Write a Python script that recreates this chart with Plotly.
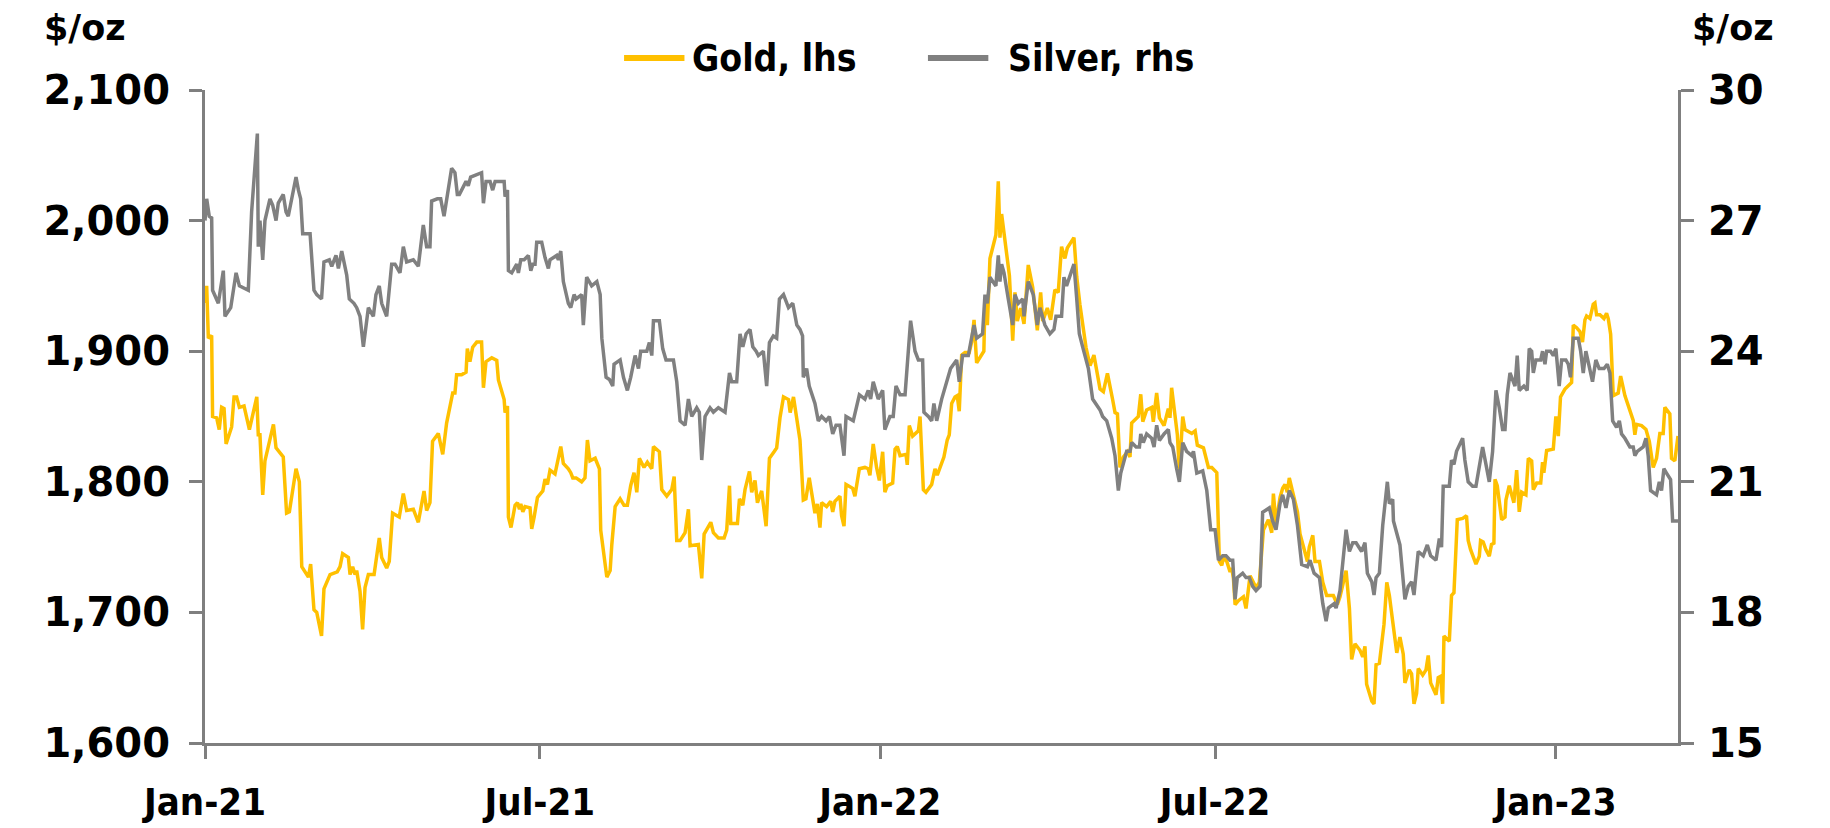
import pandas as pd
import plotly.graph_objects as go

# ---- data (x = days after 1 Jan 2021) ----
gold_day = [0, 0.9, 1.8, 3.6, 4.1, 6.3, 7.7, 9, 10.3, 11.4, 14.4, 15.7, 17.1, 18.6, 21.1, 24, 28, 28.8, 29.7, 31.2, 32.4, 37, 38.4, 42.3, 44.1, 45.6, 49.2, 51, 52.3, 55.9, 57.1, 58.9, 60.4, 63, 64.3, 67.6, 71.5, 73, 74.4, 77.5, 78.4, 79.8, 81.1, 82, 83.8, 85.2, 86.5, 88.3, 91.4, 92.8, 94.2, 95.5, 98.2, 99.6, 101.4, 105, 107.2, 109, 112.6, 115.3, 118.4, 119.8, 121.6, 123, 126.1, 128.5, 130.6, 133.9, 135.1, 136, 138.7, 141.1, 141.8, 143.2, 144.7, 146.9, 149.5, 150.5, 151.9, 155, 157.7, 158.6,
            159.5, 161.7, 162.2, 163.5, 164, 165.4, 167.6, 168.9, 170, 170.7, 171.8, 173, 175.7, 176.6, 177.9, 179.7, 182.6, 183.8, 185.1, 186.5, 189.2, 191, 192.3, 193.7, 196.4, 197.7, 198.8, 200.6, 203.6, 205.4, 206.7, 208.1, 210.9, 213.2, 213.9, 217.2, 219, 219.9, 221.7, 224.4, 226.5, 228.3, 230.1, 231.9, 233.4, 234.8, 237.3, 239.1, 241.5, 242.4, 245.6, 246.9, 249.6, 252.3, 253.6, 255, 256.8, 259.5, 261.3, 262.2, 266.7, 268.5, 269.8, 273.4, 274.8, 277.5, 280.6, 282, 283.5, 284.2, 287.8, 288.9, 290.7, 291.9, 294.3, 295.5, 297.3, 298.6, 300.9, 303.3, 305.1, 307.6, 309, 310.8, 312.7, 315.4, 316.3, 318.1, 319.5,
            321.6, 323.4, 324.8, 326.6, 329.7, 331, 332.4, 333.3, 336, 338.2, 339.3, 340.5, 343.2, 344.1, 345.4, 346.5, 350.1, 351.3, 353.7, 356.7, 358.5, 359.4, 361.2, 363, 364.5, 366.3, 367.5, 368.8, 371.7, 373, 374.2, 375.7, 378.9, 379.6, 380.7, 382.5, 385.6, 386.5, 388.3, 389.7, 392.8, 394.6, 395.8, 399.4, 401.2, 402.3, 403.6, 405.4, 406.6, 407.7, 409, 410.8, 413.1, 414.4, 415.7, 417.1, 418.5, 421, 421.6, 422.9, 424.3, 426.5, 427.5, 428.8, 429.7, 430.6, 431.9, 434.8, 436.6, 437.8, 439.1, 440.9, 442.7, 445, 447.4, 449.9, 451.7, 452.8, 455.3, 457.1, 459.4, 461.2, 463, 464.8, 466.1, 469.7, 471.2, 472.9, 476.2, 478.4, 480.5,
            483.8, 485.6, 487.8, 490.6, 491.9, 493.2, 494.6, 496.4, 498.6, 500, 500.9, 504.5, 505.8, 506.9, 509, 511.7, 512.6, 514.4, 515.9, 518.4, 520.7, 521.6, 522.5, 525.6, 526.7, 528.5, 529.7, 533.4, 535.2, 536.4, 539.7, 542.4, 544.2, 546.9, 548.3, 549.6, 550.5, 552.3, 554.1, 555, 555.9, 556.8, 558.6, 561.3, 562.7, 564.9, 566.7, 568.1, 569.9, 572.1, 574.8, 576.6, 577.5, 578.9, 581.1, 582.5, 583.8, 585, 586.1, 588.3, 590.5, 591.9, 594.1, 595.9, 596.9, 598.8, 600, 602.4, 604.2, 606.3, 609.9, 612.1, 613.5, 615, 616.8, 618.6, 619.8, 621.6, 624.3, 625.8, 627, 627.9, 630.7, 631.9, 633, 634.8, 637.3, 638.8, 640.2, 642, 644.2,
            645.9, 647.7, 648.6, 650.9, 652.2, 653.5, 654.9, 655.8, 658.2, 660, 661.2, 662.5, 665.4, 666.6, 667.9, 669, 669.7, 672.6, 673.8, 675.1, 676.9, 679.8, 681.9, 682.8, 684.1, 687, 688.8, 689.5, 690.9, 692.4, 694.2, 695.4, 696.7, 697.3, 698.5, 700.9, 702.7, 703.2, 705, 706.3, 707.5, 709, 710.4, 711.7, 714, 715.3, 717.1, 718, 719.8, 722, 723, 723.7, 725.2, 728.8, 730.2, 731.5, 732.7, 735.1, 736.9, 738.7, 739.6, 741.4, 743.2, 744.6, 745.9, 746.8, 748.6, 750.4, 751.3, 752.2, 754, 756.2, 757.6, 758.5, 759.8, 761.2, 763.9, 765.2, 767.5, 769.3, 770.6, 772, 772.9, 773.8, 776.5, 778.9, 780.7, 782.8, 784.6, 786.4, 788.2, 789.1, 791.8, 792.7, 794.5, 796.2]
gold_usd = [1937, 1950, 1910, 1912, 1850, 1849, 1840, 1857, 1856, 1829, 1842, 1865, 1865, 1857, 1858, 1840, 1865, 1836, 1836, 1790, 1816, 1844, 1826, 1819, 1776, 1777, 1810, 1800, 1735, 1727, 1737, 1702, 1700, 1682, 1718, 1729, 1731, 1735, 1745, 1742, 1729, 1735, 1729, 1732, 1716, 1687, 1719, 1729, 1729, 1744, 1757, 1742, 1734, 1739, 1776, 1773, 1791, 1778, 1779, 1769, 1793, 1778, 1784, 1831, 1837, 1821, 1845, 1868, 1868, 1882, 1882, 1884, 1902, 1892, 1903, 1907, 1907, 1872, 1892, 1895, 1893, 1878,
            1874, 1863, 1853, 1858, 1773, 1765, 1782, 1784, 1779, 1783, 1777, 1781, 1780, 1764, 1773, 1788, 1793, 1802, 1798, 1809, 1806, 1820, 1827, 1814, 1810, 1807, 1803, 1803, 1800, 1803, 1832, 1816, 1818, 1810, 1763, 1727, 1732, 1752, 1781, 1787, 1782, 1782, 1797, 1807, 1792, 1818, 1811, 1815, 1810, 1827, 1823, 1794, 1789, 1794, 1804, 1755, 1755, 1761, 1779, 1751, 1752, 1726, 1760, 1769, 1761, 1757, 1757, 1763, 1797, 1768, 1768, 1787, 1782, 1794, 1808, 1792, 1801, 1784, 1793, 1766, 1818, 1823, 1826, 1849, 1865, 1863, 1853, 1865, 1852,
            1832, 1786, 1787, 1803, 1776, 1783, 1765, 1784, 1781, 1785, 1777, 1785, 1789, 1774, 1766, 1798, 1795, 1789, 1810, 1811, 1810, 1805, 1829, 1811, 1801, 1823, 1792, 1797, 1799, 1825, 1827, 1820, 1821, 1813, 1843, 1835, 1839, 1850, 1794, 1792, 1798, 1810, 1805, 1819, 1832, 1836, 1860, 1865, 1866, 1854, 1897, 1899, 1899, 1907, 1924, 1891, 1894, 1900, 1939, 1920, 1971, 1983, 1989, 2030, 1987, 2005, 1989, 1958, 1908, 1945, 1923, 1933, 1921, 1966, 1949, 1916, 1945, 1923, 1933, 1924, 1947, 1945, 1980, 1971, 1979, 1987, 1957, 1936, 1903, 1889, 1897,
            1871, 1869, 1883, 1863, 1853, 1852, 1811, 1819, 1823, 1819, 1845, 1850, 1867, 1846, 1855, 1857, 1846, 1868, 1849, 1843, 1856, 1849, 1872, 1836, 1808, 1850, 1840, 1837, 1839, 1828, 1826, 1811, 1811, 1807, 1739, 1736, 1742, 1739, 1731, 1734, 1726, 1706, 1709, 1712, 1703, 1728, 1723, 1719, 1723, 1763, 1771, 1761, 1791, 1768, 1788, 1795, 1798, 1792, 1803, 1791, 1777, 1760, 1747, 1739, 1750, 1759, 1739, 1739, 1723, 1713, 1713, 1706, 1712, 1721, 1732, 1703, 1664, 1676, 1671, 1666, 1674, 1645, 1632, 1630, 1660, 1661, 1691, 1723, 1713, 1693, 1669,
            1681, 1668, 1646, 1656, 1653, 1630, 1638, 1657, 1652, 1656, 1667, 1646, 1637, 1650, 1651, 1630, 1682, 1678, 1713, 1715, 1771, 1772, 1774, 1755, 1748, 1737, 1743, 1755, 1754, 1748, 1743, 1752, 1753, 1802, 1797, 1771, 1773, 1786, 1797, 1791, 1784, 1809, 1777, 1792, 1790, 1818, 1816, 1794, 1799, 1799, 1815, 1807, 1824, 1825, 1850, 1835, 1865, 1871, 1874, 1876, 1920, 1918, 1915, 1907, 1924, 1927, 1925, 1936, 1937, 1928, 1928, 1925, 1929, 1925, 1913, 1866, 1868, 1881, 1866, 1858, 1852, 1847, 1836, 1844, 1843, 1840, 1831, 1811, 1818, 1837, 1837, 1857, 1852, 1818, 1816, 1835]

silver_day = [0, 0.9, 2.3, 3.6, 4.1, 7.2, 9.9, 10.8, 13.9, 16.8, 18.6, 23.4, 25.2, 28.3, 28.8, 29.7, 31.2, 32.4, 35.1, 36.6, 38.4, 39.6, 42.3, 43.8, 45, 46.8, 49.2, 50.5, 51.7, 52.8, 56.8, 58.9, 60.4, 63, 64.3, 67.2, 68.5, 70.8, 72.1, 73.9, 76.6, 78, 80.5, 82, 83.8, 85.6, 87.4, 88.3, 91, 92.4, 94.2, 95.5, 98.2, 99.6, 100.9, 102.7, 105.4, 107.2, 109, 112.6, 115.3, 118, 119.8, 121.6, 122.5, 125.6, 127.4, 129.2, 131.5, 133.3, 135.1, 136.4, 137.5, 141.1, 142.3, 143.6, 149.5, 150.5, 151.9, 154.1, 155.5, 156.8,
              159.5, 161.7, 162.2, 163.5, 164, 165.8, 168.5, 169.4, 170.7, 172.5, 174.8, 176.1, 177.2, 178.4, 179.3, 182, 183.8, 185.6, 186.5, 190.1, 191, 192.3, 193.7, 196.4, 197.7, 199.5, 200.6, 203.6, 204.5, 206.3, 209, 211.8, 213.6, 214.5, 216.8, 218.6, 220.4, 221.1, 224.4, 226.2, 228.3, 230.1, 232.5, 234.3, 235.5, 238.8, 240.2, 241.5, 242.4, 245.6, 247.4, 249.2, 253.2, 255, 256.8, 259.5, 261.3, 263.1, 265.8, 267.2, 268.5, 270.3, 273, 274.8, 277.5, 281.1, 283.5, 284.7, 287.4, 289.2, 290.7, 292.5, 294.6, 296.1, 297.9, 299.1, 301.8, 303.6, 305.1, 307.2, 309, 310.5, 312.7, 315.4, 317.7, 319.9,
              321.6, 323, 323.4, 325.2, 326.6, 329.7, 331.5, 333.3, 335.7, 337.5, 339.3, 341.1, 343.2, 345.4, 346.5, 350.4, 353.7, 356.7, 358.5, 359.8, 361.2, 363.9, 366.3, 367.5, 370.2, 372, 373.5, 375.7, 378.4, 379.6, 381.4, 383.8, 385.6, 387.9, 388.6, 391, 392.8, 394, 395.5, 398.2, 400.9, 403, 406.3, 407.7, 409.5, 412.6, 413.9, 415.7, 417.1, 420.3, 421.6, 422.9, 424.3, 425.7, 427.5, 428.8, 429.7, 430.6, 431.9, 434.2, 436.6, 437.8, 439.6, 442, 442.7, 445, 447.7, 449.9, 451.3, 454, 456.7, 458.9, 460, 463, 464.3, 465.7, 469.7, 471.2, 472.6, 474.4, 477.5, 479.8,
              483.8, 485.2, 487.4, 490.1, 491.9, 493.7, 495, 498.2, 500, 500.9, 503.3, 505.1, 505.8, 507.2, 509, 511.7, 513, 514.4, 515.9, 518.4, 520.7, 521.6, 523.1, 525.2, 526.7, 528.5, 530.6, 533.4, 534.3, 536.1, 539.3, 541.5, 543.6, 546, 547.8, 550.1, 551.9, 554.1, 555.5, 556.8, 558, 560.9, 562.7, 564.5, 566.3, 568.1, 570.3, 571.7, 575.3, 577.1, 578.9, 581.1, 582.5, 584.3, 586.1, 588.3, 590.5, 592.8, 595.9, 597.3, 599.5, 602.4, 604.2, 606, 607.2, 610.3, 611.4, 613.5, 616.8, 618.6, 620.4, 622.2, 625.2, 627, 628.3, 630.7, 631.9, 633, 634.8, 636.6, 639.1, 640.2, 642, 642.4,
              645.9, 647.3, 648.6, 650.4, 652.2, 653.5, 655.8, 658.5, 660.7, 662.5, 665.4, 667.2, 668.4, 669.3, 672.6, 673.8, 675.1, 676.5, 679.8, 681, 682.8, 685.2, 687, 688.2, 690.6, 692.4, 694.2, 696, 697.8, 699.6, 701.4, 702.7, 703.9, 705.4, 707.2, 708.1, 709.3, 710.4, 712.9, 714.7, 715.8, 717.1, 718, 719.4, 722, 723, 724.3, 725.2, 727.3, 728.8, 730.2, 732, 733.3, 735.6, 736.9, 738.1, 739.6, 742.3, 743.6, 745, 746.4, 748.2, 750, 751.8, 753.6, 756.2, 758, 759.4, 760.9, 763, 764.5, 765.7, 767.5, 770.2, 772, 772.9, 774.2, 777.4, 778.9, 780.1, 781.4, 784.6, 786.1, 787.3, 788.6, 790, 792.2, 793.3, 794.5, 796.2]
silver_usd = [27.0, 27.5, 27.1, 27.06, 25.4, 25.1, 25.85, 24.8, 25.0, 25.8, 25.5, 25.4, 27.2, 29.0, 26.4, 27.0, 26.1, 27.0, 27.5, 27.35, 27.0, 27.4, 27.6, 27.2, 27.1, 27.5, 28.0, 27.7, 27.5, 26.7, 26.7, 25.4, 25.3, 25.2, 26.05, 26.1, 25.95, 26.2, 25.9, 26.3, 25.75, 25.2, 25.1, 25.0, 24.8, 24.1, 24.8, 25.0, 24.8, 25.3, 25.5, 25.1, 24.8, 25.4, 26.0, 26.0, 25.8, 26.4, 26.05, 26.1, 25.95, 26.9, 26.4, 26.4, 27.45, 27.5, 27.5, 27.1, 27.7, 28.2, 28.1, 27.6, 27.6, 27.9, 27.8, 28.0, 28.1, 27.4, 27.9, 27.9, 27.7, 27.9,
              27.9, 27.9, 27.55, 27.7, 25.85, 25.8, 26.0, 25.8, 26.1, 26.1, 26.2, 25.85, 26.0, 26.0, 26.5, 26.5, 26.15, 25.9, 26.1, 26.2, 26.1, 26.3, 25.6, 25.1, 25.0, 25.3, 25.2, 25.3, 24.6, 25.7, 25.5, 25.6, 25.3, 24.3, 23.4, 23.35, 23.2, 23.7, 23.8, 23.4, 23.1, 23.4, 23.9, 23.6, 24.0, 24.0, 24.2, 23.9, 24.7, 24.7, 24.06, 23.8, 23.8, 23.3, 22.4, 22.3, 22.9, 22.5, 22.7, 22.6, 21.5, 22.5, 22.7, 22.6, 22.7, 22.6, 23.5, 23.3, 23.3, 24.4, 24.1, 24.4, 24.5, 24.1, 24.0, 23.9, 24.0, 23.2, 24.2, 24.35, 24.3, 25.2, 25.3, 25.0, 25.1, 24.6,
              24.5, 24.35, 23.4, 23.6, 23.2, 22.8, 22.4, 22.5, 22.4, 22.5, 22.1, 22.3, 22.3, 21.6, 22.5, 22.4, 23.0, 22.9, 23.1, 22.9, 23.3, 22.9, 23.1, 22.2, 22.5, 22.5, 23.2, 23.0, 23.0, 23.7, 24.7, 24.0, 23.8, 23.8, 22.6, 22.5, 22.4, 22.8, 22.4, 22.9, 23.3, 23.6, 23.8, 23.3, 23.9, 23.9, 24.2, 24.6, 24.3, 24.4, 25.3, 25.1, 25.7, 25.6, 25.5, 26.2, 25.6, 26.0, 25.8, 25.2, 24.6, 25.3, 25.1, 25.2, 24.8, 25.6, 25.3, 24.6, 25.0, 24.6, 24.4, 24.5, 24.8, 24.8, 25.7, 25.5, 26.0, 25.2, 24.4, 24.1, 23.6, 22.9,
              22.65, 22.5, 22.4, 22.0, 21.6, 20.8, 21.2, 21.7, 21.7, 21.9, 21.8, 21.8, 22.1, 21.9, 22.1, 22.0, 21.8, 22.3, 21.95, 22.1, 22.2, 21.9, 21.8, 21.3, 21.0, 21.9, 21.7, 21.6, 21.7, 21.2, 21.25, 20.8, 19.9, 19.9, 19.2, 19.3, 19.3, 19.2, 19.2, 18.3, 18.8, 18.9, 18.8, 18.8, 18.6, 18.5, 18.6, 20.3, 20.4, 20.1, 19.9, 20.5, 20.7, 20.4, 20.8, 20.6, 20.0, 19.1, 19.05, 19.2, 18.9, 18.8, 18.2, 17.8, 18.1, 18.2, 18.1, 18.5, 19.9, 19.4, 19.6, 19.6, 19.4, 19.6, 18.9, 18.7, 18.4, 18.8, 18.9, 20.0, 21.0, 20.5, 20.6, 20.1,
              19.55, 18.9, 18.3, 18.6, 18.7, 18.4, 19.4, 19.3, 19.55, 19.3, 19.2, 19.7, 19.5, 20.9, 20.9, 21.5, 21.4, 21.7, 22.0, 21.5, 21.0, 20.9, 20.9, 21.2, 21.8, 21.4, 21.0, 21.7, 23.1, 22.7, 22.2, 22.2, 23.0, 23.5, 23.3, 23.2, 23.9, 23.1, 23.2, 23.1, 24.06, 24.0, 23.5, 23.8, 23.8, 24.0, 23.7, 24.0, 24.0, 23.9, 24.06, 23.2, 23.8, 23.8, 23.7, 23.4, 24.3, 24.3, 24.0, 23.5, 24.0, 23.6, 23.3, 23.8, 23.6, 23.6, 23.7, 23.5, 22.4, 22.25, 22.4, 22.1, 22.0, 21.8, 21.8, 21.6, 21.7, 21.8, 22.0, 21.6, 20.8, 20.7, 21.0, 20.8, 21.3, 21.2, 21.05, 20.1, 20.1, 20.1]

series_names = ["Gold, lhs", "Silver, rhs"]
x_ticks = ["2021-01-01", "2021-07-01", "2022-01-01", "2022-07-01", "2023-01-01"]
x_range = ["2021-01-01", "2023-03-08 05:00"]
gold_ticks = [1600, 1700, 1800, 1900, 2000, 2100]
silver_ticks = [15, 18, 21, 24, 27, 30]

start = pd.Timestamp("2021-01-01")
gold_x = start + pd.to_timedelta(gold_day, unit="D")
silver_x = start + pd.to_timedelta(silver_day, unit="D")

GOLD = "#FFC000"
GREY = "#808080"
AXIS = "#7F7F7F"

fig = go.Figure()
fig.add_trace(go.Scatter(x=gold_x, y=gold_usd, name=series_names[0], mode="lines",
                         line=dict(color=GOLD, width=3.5), showlegend=False))
fig.add_trace(go.Scatter(x=silver_x, y=silver_usd, name=series_names[1], mode="lines",
                         line=dict(color=GREY, width=3.5), yaxis="y2", showlegend=False))

tick_font = dict(family="DejaVu Sans", size=40, color="black", weight="bold")
cond_font = dict(family="DejaVu Sans Condensed, DejaVu Sans", size=38, color="black", weight="bold")
leg_font = dict(family="DejaVu Sans Condensed, DejaVu Sans", size=37, color="black", weight="bold")
unit_font = dict(family="DejaVu Sans", size=35, color="black", weight="bold")

axis_common = dict(showgrid=False, zeroline=False, showline=True, linecolor=AXIS, linewidth=3,
                   ticks="outside", ticklen=13, tickwidth=3, tickcolor=AXIS, automargin=False)

# manual legend (line sample + label) above the plot
leg_y = 1.049
legend_shapes = [
    dict(type="line", xref="paper", yref="paper", x0=0.2845, x1=0.3255, y0=leg_y, y1=leg_y,
         line=dict(color=GOLD, width=6)),
    dict(type="line", xref="paper", yref="paper", x0=0.4908, x1=0.5318, y0=leg_y, y1=leg_y,
         line=dict(color=GREY, width=6)),
]
legend_labels = [
    dict(text=series_names[0], xref="paper", yref="paper", x=0.3293, y=leg_y,
         xanchor="left", yanchor="middle", showarrow=False, font=leg_font),
    dict(text=series_names[1], xref="paper", yref="paper", x=0.5438, y=leg_y,
         xanchor="left", yanchor="middle", showarrow=False, font=leg_font),
]

# the page body adds an 8px offset, so the figure is 8px smaller and margins shifted
fig.update_layout(
    width=1822, height=820,
    margin=dict(l=197, r=152, t=82, b=85, autoexpand=False),
    paper_bgcolor="white", plot_bgcolor="white",
    showlegend=False,
    xaxis=dict(type="date", range=x_range, tickvals=x_ticks, tickformat="%b-%y",
               tickfont=cond_font, ticklabelstandoff=10, **axis_common),
    yaxis=dict(range=[1600, 2100], tickvals=gold_ticks, tickformat=",",
               tickfont=tick_font, ticklabelstandoff=11, **axis_common),
    yaxis2=dict(range=[15, 30], tickvals=silver_ticks, overlaying="y", side="right",
                tickfont=tick_font, ticklabelstandoff=6, **axis_common),
    shapes=legend_shapes,
    annotations=legend_labels + [
        dict(text="$/oz", xref="paper", yref="paper", x=-0.1107, y=1.095,
             xanchor="left", yanchor="middle", showarrow=False, font=unit_font),
        dict(text="$/oz", xref="paper", yref="paper", x=1.008, y=1.095,
             xanchor="left", yanchor="middle", showarrow=False, font=unit_font),
    ],
)

fig.write_html("out.html")
